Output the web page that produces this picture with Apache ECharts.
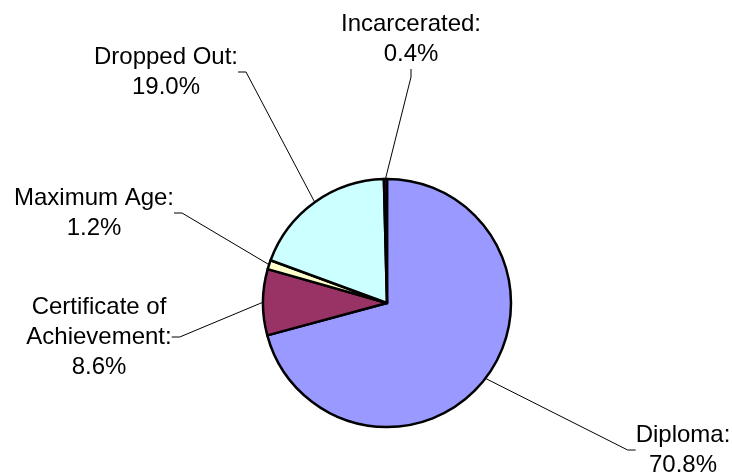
<!DOCTYPE html>
<html>
<head>
<meta charset="utf-8">
<script src="https://cdn.jsdelivr.net/npm/echarts@6/dist/echarts.min.js"></script>
<style>
  html, body { margin: 0; padding: 0; background: #fff; }
  #chart { width: 732px; height: 475px; }
</style>
</head>
<body>
<div id="chart"></div>
<script>
// slices, clockwise from 12 o'clock
const categories = ['Diploma', 'Certificate of\nAchievement', 'Maximum Age', 'Dropped Out', 'Incarcerated']
const shares = [70.8, 8.6, 1.2, 19.0, 0.4]
const colors = ['#9999FF', '#993366', '#FFFFCC', '#CCFFFF', '#660066']

// where each label block sits (centre of text)
const labelSpots = [[683, 450], [99, 337], [94, 213], [166, 72], [411, 39]]

const chart = echarts.init(document.getElementById('chart'))

chart.setOption({
  animation: false,
  series: [
    {
      type: 'pie',
      center: [387, 303],
      radius: 124,
      startAngle: 90,
      clockwise: true,
      avoidLabelOverlap: false,
      itemStyle: { borderColor: '#000', borderWidth: 2.5 },
      label: {
        show: true,
        formatter: (p) => p.name + ':\n' + p.value.toFixed(1) + '%',
        fontFamily: 'Liberation Sans, Arial, sans-serif',
        fontSize: 24,
        lineHeight: 30,
        color: '#000',
        align: 'center',
      },
      labelLine: {
        show: true,
        length: 20,
        length2: 8,
        lineStyle: { color: '#000', width: 1 },
      },
      labelLayout: (params) => {
        const s = labelSpots[params.dataIndex]
        return { x: s[0], y: s[1], align: 'center', verticalAlign: 'middle' }
      },
      data: categories.map((name, i) => ({
        name,
        value: shares[i],
        itemStyle: { color: colors[i] },
      })),
    },
  ],
})
</script>
</body>
</html>
